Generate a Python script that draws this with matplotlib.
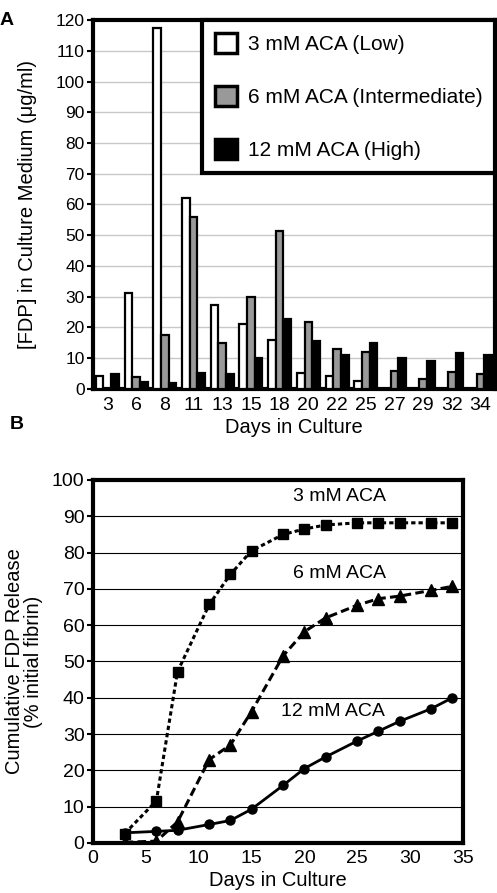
import numpy as np
import matplotlib.pyplot as plt

plt.rcParams['font.family'] = ['Liberation Sans', 'DejaVu Sans']

# panel A: FDP concentration per sampling day
days_a = ['3', '6', '8', '11', '13', '15', '18', '20', '22', '25', '27', '29', '32', '34']
low = [4.2, 31.2, 117.5, 62, 27.4, 21.1, 16, 5.1, 4.1, 2.5, 0, 0, 0, 0]
mid = [0, 3.8, 17.4, 56, 14.8, 30, 51.5, 21.9, 13.1, 12.1, 6, 3.4, 5.5, 4.8]
high = [4.9, 2.2, 2, 5.2, 5, 10.2, 22.6, 15.7, 11.1, 14.8, 10, 9, 11.6, 11]
bar_labels = ['3 mM ACA (Low)', '6 mM ACA (Intermediate)', '12 mM ACA (High)']

# panel B: cumulative release
days_b = [3, 6, 8, 11, 13, 15, 18, 20, 22, 25, 27, 29, 32, 34]
cum_3 = [2.6, 11.6, 47.2, 65.7, 74, 80.5, 85, 86.5, 87.6, 88.2, 88.2, 88.2, 88.2, 88.2]
cum_6 = [0.2, 0.5, 5.8, 23, 27, 36.2, 51.6, 58.2, 62, 65.5, 67.3, 68, 69.6, 70.7]
cum_12 = [2.8, 3.2, 3.5, 5.1, 6.2, 9.3, 15.9, 20.5, 23.7, 28.1, 30.8, 33.5, 37, 40]

fig = plt.figure(figsize=(4.97, 8.93), dpi=100)

# ---- A ----
ax = fig.add_axes([0.187, 0.5644, 0.809, 0.4132])
x = np.arange(len(days_a))
w = 0.8 / 3
for i, (vals, col) in enumerate(zip([low, mid, high], ['white', '#999999', 'black'])):
    ax.bar(x + (i - 1) * w, vals, w, color=col, edgecolor='black', linewidth=1.6,
           label=bar_labels[i], zorder=3)
ax.set_xlim(-0.5, len(days_a) - 0.5)
ax.set_ylim(0, 120)
ax.set_yticks(np.arange(0, 121, 10))
ax.set_xticks(x)
ax.set_xticklabels(days_a, fontsize=14)
ax.tick_params(axis='y', labelsize=12.5, length=4, width=1.5, direction='out', pad=2)
ax.tick_params(axis='x', length=0, pad=6)
ax.yaxis.grid(True, color='#c8c8c8', linewidth=1)
ax.set_axisbelow(True)
for s in ax.spines.values():
    s.set_linewidth(3)
ax.set_xlabel('Days in Culture', fontsize=14.5, labelpad=3)
ax.set_ylabel('[FDP] in Culture Medium (\u03bcg/ml)', fontsize=14.5)
ax.yaxis.set_label_coords(-0.14, 0.5)
leg = ax.legend(loc='upper right', fontsize=15, frameon=True, fancybox=False,
                borderaxespad=0, handlelength=1.1, handleheight=1.1,
                labelspacing=1.55, handletextpad=0.5, borderpad=0.6)
leg.get_frame().set_edgecolor('black')
leg.get_frame().set_linewidth(3)
leg.get_frame().set_alpha(1)
for p in leg.get_patches():
    p.set_linewidth(2.5)
fig.text(0.0, 0.9775, 'A', fontsize=14, fontweight='bold', va='center')

# ---- B ----
bx = fig.add_axes([0.187, 0.056, 0.7445, 0.4065])
bx.plot(days_b, cum_3, color='black', linewidth=2.2, linestyle=(0, (1.4, 1.0)),
        marker='s', markersize=7.5, zorder=4)
bx.plot(days_b, cum_6, color='black', linewidth=2.2, linestyle=(0, (2.8, 1.4)),
        marker='^', markersize=8, zorder=4)
bx.plot(days_b, cum_12, color='black', linewidth=2, linestyle='-',
        marker='o', markersize=6.5, zorder=4)
bx.set_xlim(0, 35)
bx.set_ylim(0, 100)
bx.set_xticks(np.arange(0, 36, 5))
bx.set_yticks(np.arange(0, 101, 10))
bx.tick_params(axis='y', labelsize=14, length=4, width=1.5, direction='out', pad=2)
bx.tick_params(axis='x', labelsize=14, length=0, pad=5)
bx.yaxis.grid(True, color='black', linewidth=0.8)
bx.set_axisbelow(True)
for s in bx.spines.values():
    s.set_linewidth(3)
bx.text(23.3, 95.4, '3 mM ACA', fontsize=14, ha='center', va='center')
bx.text(23.3, 74.3, '6 mM ACA', fontsize=14, ha='center', va='center')
bx.text(22.7, 36.2, '12 mM ACA', fontsize=14, ha='center', va='center')
bx.set_xlabel('Days in Culture', fontsize=14.5, labelpad=3)
bx.set_ylabel('Cumulative FDP Release\n(% initial fibrin)', fontsize=14.5,
              linespacing=1.0)
bx.yaxis.set_label_coords(-0.135, 0.5)
fig.text(0.02, 0.5245, 'B', fontsize=14, fontweight='bold', va='center')

fig.savefig('out.png', dpi=100)
